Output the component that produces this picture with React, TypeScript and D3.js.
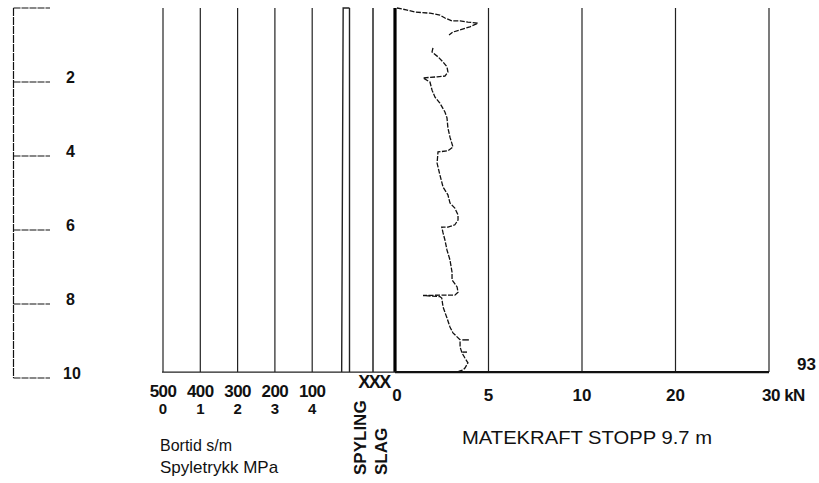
import React from "react";
import * as d3 from "d3";

// ---- data ----
const depthTicks = [0, 2, 4, 6, 8, 10];
const depthLabels = ["2", "4", "6", "8", "10"];
const bortidTicks = [500, 400, 300, 200, 100];
const spyleTicks = [0, 1, 2, 3, 4];
const kNTicks = [0, 5, 10, 20, 30];
const columns = ["SPYLING", "SLAG"];
const stopDepth = 9.84;

// Bortid trace (s/m) vs depth (m)
const bortidDepth = [0, 0, 9.84];
const bortidValue = [0, 17, 21];

// Matekraft trace: depth (m), kN (NaN = gap)
const mkDepth = [
  0.0, 0.05, 0.11, 0.14, 0.19, 0.27, 0.35, 0.35, 0.38, 0.41, 0.51, 0.59, 0.65, 0.73, 0.8,
  1.08, 1.19, 1.32, 1.46, 1.59, 1.73, 1.84, 1.86, 1.89, 2.0, 2.22, 2.41, 2.57, 2.81, 2.97,
  3.24, 3.49, 3.76, 3.86, 3.89, 4.19, 4.51, 4.84, 5.05, 5.27, 5.41, 5.59, 5.73, 5.86, 5.92,
  5.92, 6.08, 6.27, 6.54, 6.81, 7.14, 7.35, 7.54, 7.68, 7.76, 7.76, 7.77, 7.8, 7.84, 8.08,
  8.38, 8.62, 8.78, 8.97, 9.16, 9.32, 9.46, 9.59, 9.73, 9.78, 9.82,
];
const mkValue = [
  0.1, 0.6, 1.07, 1.87, 2.4, 2.67, 3.05, 3.48, 3.9, 4.44, 4.0, 3.48, 3.1, 2.89, NaN,
  2.03, 1.98, 2.3, 2.57, 2.78, 2.83, 2.67, 2.25, 1.5, 1.87, 1.98, 2.14, 2.4, 2.67, 2.78,
  2.83, 2.94, 3.1, 2.83, 2.3, 2.25, 2.4, 2.57, 2.83, 2.94, 3.2, 3.37, 3.37, 3.2, 2.83,
  2.5, 2.57, 2.67, 2.78, 2.94, 3.05, 3.05, 3.32, 3.37, 3.2, 2.5, 1.5, 2.4, 2.5, 2.57,
  2.78, 2.94, 3.1, 3.48, 3.48, 3.58, 3.74, 3.9, 3.74, 3.64, 3.4,
];
// isolated short marks: depth, from kN, to kN
const markDepth = [8.97, 9.3];
const markFrom = [3.6, 3.6];
const markTo = [3.95, 3.85];

const W = 819;
const H = 483;

export default function App() {
  const y = d3.scaleLinear().domain([0, 10]).range([8, 378]);
  const bortid = d3.scaleLinear().domain([500, 0]).range([163, 349.5]);
  const spyle = d3.scaleLinear().domain([0, 5]).range([163, 349.5]);
  const col = d3.scaleBand().domain(columns).range([351, 395]);
  const kn = d3
    .scaleLinear()
    .domain(kNTicks)
    .range(kNTicks.map((_, i) => 395 + i * 93.5));

  const yTop = y(0);
  const yBot = y(stopDepth);
  const font = "'Liberation Sans', Arial, sans-serif";
  const ink = "#111";

  const mkData = mkDepth.map((d, i) => ({ d, v: mkValue[i] }));
  const mkLine = d3
    .line<{ d: number; v: number }>()
    .defined((p) => !isNaN(p.v))
    .x((p) => kn(p.v))
    .y((p) => y(p.d));

  const bData = bortidDepth.map((d, i) => ({ d, v: bortidValue[i] }));
  const bLine = d3
    .line<{ d: number; v: number }>()
    .x((p) => bortid(p.v))
    .y((p) => y(p.d));

  const axisX = 13.5;

  return (
    <svg
      width={W}
      height={H}
      style={{ position: "absolute", left: 0, top: 0, background: "#fff" }}
      fontFamily={font}
    >
      <rect width={W} height={H} fill="#fff" />
      {/* left depth axis */}
      <line x1={axisX} x2={axisX} y1={y(0)} y2={y(10)} stroke={ink} strokeWidth={1.2} strokeDasharray="8 1" />
      {depthTicks.map((t) => (
        <line key={t} x1={axisX} x2={50} y1={y(t)} y2={y(t)} stroke={ink} strokeWidth={1.1} strokeDasharray="7 1" />
      ))}
      {depthLabels.map((l, i) => (
        <text key={l} x={l.length > 1 ? 63 : 66} y={y(depthTicks[i + 1]) + 1} fontSize={16} fontWeight="bold" fill={ink}>
          {l}
        </text>
      ))}

      {/* bortid / spyletrykk grid */}
      {bortidTicks.map((t) => (
        <line key={t} x1={bortid(t)} x2={bortid(t)} y1={yTop} y2={yBot} stroke="#222" strokeWidth={1.2} />
      ))}
      <line x1={bortid(0)} x2={bortid(0)} y1={yTop} y2={yBot} stroke="#222" strokeWidth={1.4} />
      <path d={bLine(bData) || ""} fill="none" stroke="#222" strokeWidth={1.4} />

      {/* column dividers */}
      <line x1={col("SLAG")!} x2={col("SLAG")!} y1={yTop} y2={yBot} stroke="#222" strokeWidth={1.5} />
      <line x1={kn(0)} x2={kn(0)} y1={yTop} y2={yBot} stroke="#000" strokeWidth={3.2} />

      {/* kN grid */}
      {kNTicks.slice(1).map((t) => (
        <line key={t} x1={kn(t)} x2={kn(t)} y1={yTop} y2={yBot} stroke="#222" strokeWidth={1.2} />
      ))}

      {/* baseline */}
      <line x1={bortid(500) - 1} x2={kn(0)} y1={yBot} y2={yBot} stroke="#222" strokeWidth={1.2} />
      <line x1={kn(0)} x2={kn(30)} y1={yBot} y2={yBot} stroke="#111" strokeWidth={2.2} />

      {/* matekraft trace */}
      <path d={mkLine(mkData) || ""} fill="none" stroke="#111" strokeWidth={1.3} strokeDasharray="5 1.5" />
      {markDepth.map((d, i) => (
        <line key={i} x1={kn(markFrom[i])} x2={kn(markTo[i])} y1={y(d)} y2={y(d)} stroke="#111" strokeWidth={1.4} />
      ))}

      {/* bottom labels */}
      {bortidTicks.map((t) => (
        <text key={"b" + t} x={bortid(t)} y={397} fontSize={17} fontWeight="bold" textAnchor="middle" fill={ink} letterSpacing={-0.6}>
          {t}
        </text>
      ))}
      {spyleTicks.map((t) => (
        <text key={"s" + t} x={spyle(t)} y={414} fontSize={15} fontWeight="bold" textAnchor="middle" fill={ink}>
          {t}
        </text>
      ))}
      <text x={(col("SPYLING")! + kn(0)) / 2 + 1} y={388} fontSize={18} fontWeight="bold" textAnchor="middle" fill={ink} letterSpacing={-1.5}>
        XXX
      </text>
      {kNTicks.slice(0, 4).map((t) => (
        <text key={"k" + t} x={kn(t) + (t === 0 ? 2 : 0)} y={401} fontSize={17} textAnchor="middle" fill={ink} fontWeight="bold">
          {t}
        </text>
      ))}
      <text x={kn(30) - 7} y={401} fontSize={17} fill={ink} fontWeight="bold" letterSpacing={-0.5}>
        30 kN
      </text>
      <text x={797} y={370} fontSize={17} fill={ink} fontWeight="bold">
        93
      </text>
      {columns.map((c, i) => {
        const x = (col(c) || 0) + (i === 0 ? 15 : 14);
        return (
          <text key={c} transform={`translate(${x},475) rotate(-90)`} fontSize={17} fontWeight="bold" fill={ink}>
            {c}
          </text>
        );
      })}
      <text x={160} y={451} fontSize={16} fill={ink}>
        Bortid s/m
      </text>
      <text x={160} y={473} fontSize={17} fill={ink}>
        Spyletrykk MPa
      </text>
      <text x={462} y={444} fontSize={18} fill={ink} textLength={250} lengthAdjust="spacingAndGlyphs">
        MATEKRAFT  STOPP 9.7 m
      </text>
    </svg>
  );
}
